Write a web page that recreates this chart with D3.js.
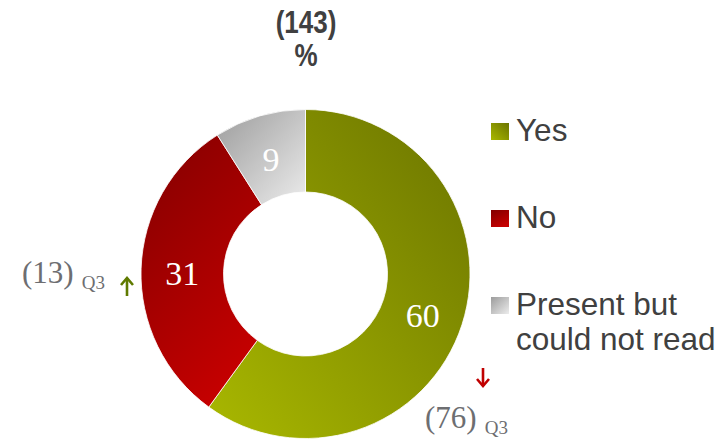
<!DOCTYPE html>
<html><head><meta charset="utf-8">
<script src="https://cdn.jsdelivr.net/npm/d3@7"></script>
<style>body{margin:0;background:#fff}svg{display:block}</style>
</head><body>
<svg id="c" width="722" height="443"></svg>
<script>
const categories = ["Yes", "No", "Present but could not read"];
const values = [60, 31, 9];
const legendLines = [["Yes"], ["No"], ["Present but", "could not read"]];
const baseLabel = "(143)";
const unitLabel = "%";
const prevValues = ["(76)", "(13)", null];
const prevPeriod = "Q3";
const trend = ["down", "up", null];

const gradStops = [
  ["#a9b800", "#6b7400"],
  ["#c60000", "#840000"],
  ["#ececec", "#9c9c9c"]
];

const svg = d3.select("#c");
const cx = 305.5, cy = 274, R = 164.5, r = 82;

const defs = svg.append("defs");
const gdir = [
  {x1:0,y1:1,x2:1,y2:0},
  {x1:0.6,y1:1,x2:0.1,y2:0},
  {x1:1,y1:1,x2:0,y2:0}
];
gradStops.forEach((s,i)=>{
  const g = defs.append("linearGradient").attr("id","g"+i)
    .attr("x1",gdir[i].x1).attr("y1",gdir[i].y1).attr("x2",gdir[i].x2).attr("y2",gdir[i].y2);
  g.append("stop").attr("offset","0%").attr("stop-color",s[0]);
  g.append("stop").attr("offset","100%").attr("stop-color",s[1]);
});

const pie = d3.pie().sort(null).value(d=>d)(values);
const arc = d3.arc().innerRadius(r).outerRadius(R);
const g = svg.append("g").attr("transform",`translate(${cx},${cy})`);
g.selectAll("path").data(pie).join("path")
  .attr("d",arc).attr("fill",(d,i)=>`url(#g${i})`)
  .attr("stroke","#fff").attr("stroke-width",0.8);

const labelArc = d3.arc().innerRadius((R+r)/2).outerRadius((R+r)/2);
g.selectAll("text.v").data(pie).join("text").attr("class","v")
  .attr("transform",d=>{const c=labelArc.centroid(d);return `translate(${c[0]},${c[1]})`;})
  .attr("text-anchor","middle").attr("dy","0.45em")
  .attr("font-family","'Liberation Serif','DejaVu Serif',serif")
  .attr("font-size",34).attr("fill","#fff")
  .style("font-variant-numeric","oldstyle-nums")
  .text(d=>d.data);

// title (condensed look via horizontal scale)
const tf = "'Liberation Sans',Arial,sans-serif";
svg.append("text").attr("transform","translate(306,33) scale(0.84,1)").attr("text-anchor","middle")
  .attr("font-family",tf).attr("font-weight","bold").attr("font-size",31).attr("fill","#404040").text(baseLabel);
svg.append("text").attr("transform","translate(306,66) scale(0.84,1)").attr("text-anchor","middle")
  .attr("font-family",tf).attr("font-weight","bold").attr("font-size",31).attr("fill","#404040").text(unitLabel);

// legend
const lg = svg.append("g");
const legY = [141, 228, 315];
legendLines.forEach((lines,i)=>{
  lg.append("rect").attr("x",491).attr("y",legY[i]-18).attr("width",18).attr("height",17).attr("fill",`url(#g${i})`);
  lines.forEach((t,j)=>{
    lg.append("text").attr("x",516).attr("y",legY[i]+j*35)
      .attr("font-family",tf).attr("font-size",31.5).attr("fill","#404040").text(t);
  });
});

// previous period annotations
const sf = "'Liberation Serif','DejaVu Serif',serif";
const ann = [
  {i:0, x:425, y:428, ax:483, ay1:368, ay2:386},
  {i:1, x:22, y:283, ax:127, ay1:296, ay2:278}
];
ann.forEach(a=>{
  const t = svg.append("text").attr("x",a.x).attr("y",a.y)
    .attr("font-family",sf).attr("fill","#6d6e71");
  t.append("tspan").attr("font-size",31).text(prevValues[a.i]);
  t.append("tspan").attr("font-size",19).attr("dx",8).attr("dy",6).text(prevPeriod);
  const col = trend[a.i]==="up" ? "#5f7a00" : "#c00000";
  const dir = trend[a.i]==="up" ? -1 : 1;
  const tip = a.ay2;
  svg.append("line").attr("x1",a.ax).attr("x2",a.ax).attr("y1",a.ay1).attr("y2",tip)
    .attr("stroke",col).attr("stroke-width",2.6);
  svg.append("path").attr("d",`M${a.ax-6},${tip-dir*7}L${a.ax},${tip}L${a.ax+6},${tip-dir*7}`)
    .attr("fill","none").attr("stroke",col).attr("stroke-width",2.6);
});
</script>
</body></html>
